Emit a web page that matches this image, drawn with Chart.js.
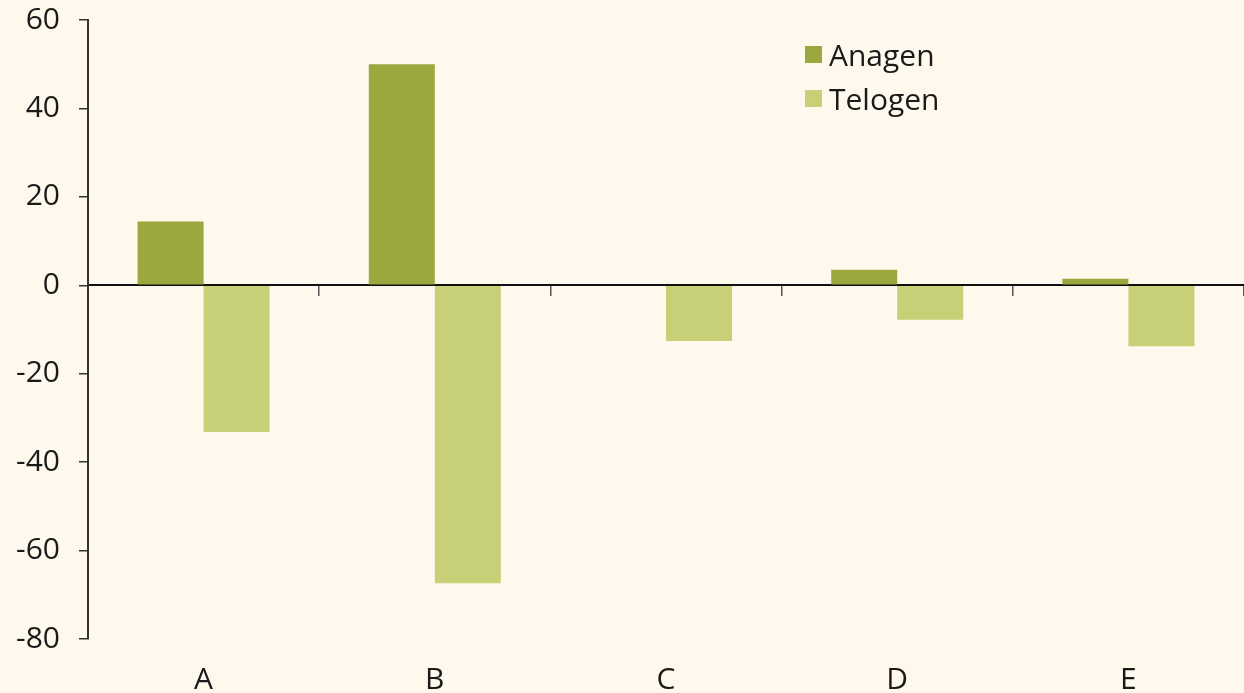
<!DOCTYPE html>
<html>
<head>
<meta charset="utf-8">
<script src="https://cdn.jsdelivr.net/npm/chart.js@4/dist/chart.umd.min.js"></script>
<style>
  html, body { margin: 0; padding: 0; background: #fef9ec; }
  #wrap { position: relative; width: 1244px; height: 693px; }
  #legend { position: absolute; left: 805px; top: 32px; font-family: 'Open Sans', sans-serif; font-size: 30px; color: #1a1a1a; }
  #legend div { display: flex; align-items: center; height: 44px; }
  #legend span.box { width: 17px; height: 17px; margin-right: 7px; display: inline-block; }
</style>
</head>
<body>
<div id="wrap">
  <canvas id="grafico" width="1244" height="693"></canvas>
  <div id="legend"></div>
</div>
<script>
const categorias = ['A', 'B', 'C', 'D', 'E'];
const anagen = [14.4, 50, 0, 3.5, 1.5];
const telogen = [-33.2, -67.4, -12.6, -7.8, -13.8];
const yTicks = [-80, -60, -40, -20, 0, 20, 40, 60];

const colores = { anagen: '#9aa83e', telogen: '#c7cf77' };
const fuente = { family: "'Open Sans', sans-serif", size: 30 };

const ctx = document.getElementById('grafico').getContext('2d');
const chart = new Chart(ctx, {
    type: 'bar',
    data: {
        labels: categorias,
        datasets: [
            { label: 'Anagen', data: anagen, backgroundColor: colores.anagen },
            { label: 'Telogen', data: telogen, backgroundColor: colores.telogen },
        ],
    },
    options: {
        responsive: false,
        animation: false,
        layout: { padding: 0 },
        categoryPercentage: 0.571,
        barPercentage: 1,
        plugins: { legend: { display: false }, tooltip: { enabled: false } },
        scales: {
            x: {
                grid: { display: false },
                border: { display: false },
                ticks: { color: '#1a1a1a', font: fuente, padding: 15 },
                afterFit: (scale) => { scale.height = 54; },
            },
            // linea del cero con marcas entre categorias
            x2: {
                type: 'category',
                labels: categorias,
                position: { y: 0 },
                offset: true,
                grid: { offset: true, drawOnChartArea: false, drawTicks: true, tickLength: 10, color: '#555', lineWidth: 1.5 },
                border: { color: '#111', width: 2 },
                ticks: { display: false },
            },
            y: {
                min: -80,
                max: 60,
                afterBuildTicks: (scale) => { scale.ticks = yTicks.map(v => ({ value: v })); },
                afterFit: (scale) => {
                    scale.width = 88;
                    scale.paddingTop = 20;
                    scale.paddingBottom = 0;
                },
                grid: { drawOnChartArea: false, tickLength: 9, color: '#333', lineWidth: 1.5 },
                border: { color: '#333', width: 2 },
                ticks: { color: '#1a1a1a', font: fuente, padding: 19 },
            },
        },
    },
});

// leyenda
const legend = document.getElementById('legend');
chart.data.datasets.forEach(ds => {
    const row = document.createElement('div');
    row.innerHTML = '<span class="box" style="background:' + ds.backgroundColor + '"></span>' + ds.label;
    legend.appendChild(row);
});
</script>
</body>
</html>
